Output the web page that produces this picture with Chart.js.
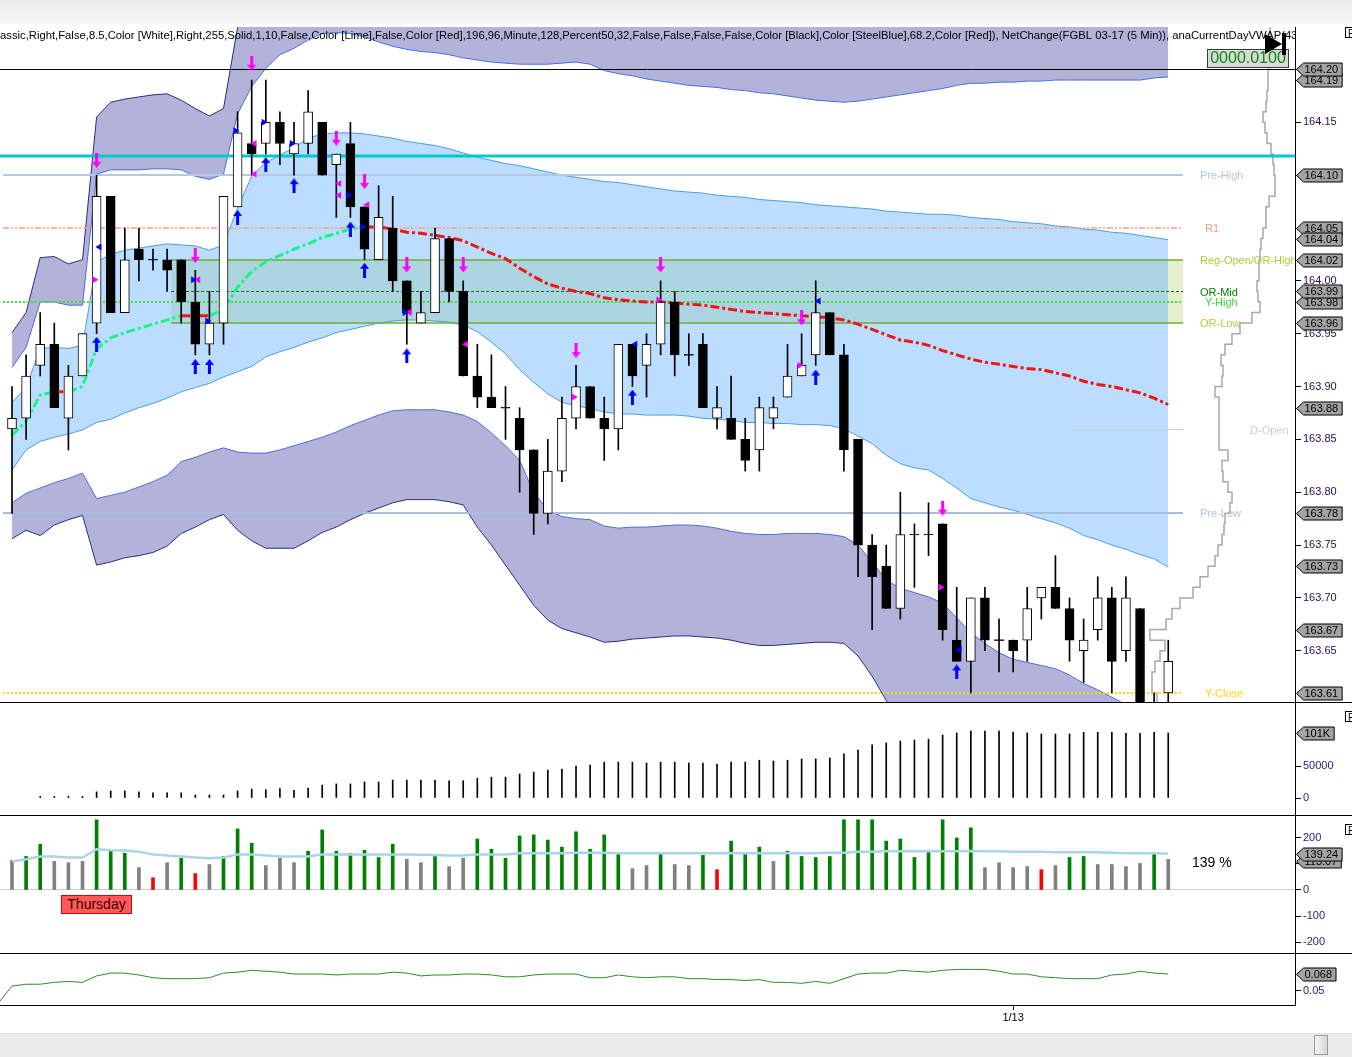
<!DOCTYPE html>
<html>
<head>
<meta charset="utf-8">
<title>FGBL 03-17 (5 Min)</title>
<script src="https://cdn.jsdelivr.net/npm/chart.js@4.4.1/dist/chart.umd.min.js"></script>
<style>
  body { margin: 0; width: 1352px; height: 1057px; overflow: hidden; position: relative; background: #fff; font-family: "Liberation Sans", Arial, sans-serif; }
  canvas { position: absolute; left: 0; }
  .sep { position: absolute; left: 0; width: 1352px; height: 1px; background: #000; }
  .flag { position: absolute; left: 1345px; width: 12px; height: 11px; border: 1px solid #000; background: #fff; font-size: 10px; line-height: 11px; padding-left: 2px; box-sizing: border-box; }
  #topbar { position: absolute; left: 0; top: 0; width: 1352px; height: 24px; background: linear-gradient(#ebebeb, #f6f6f6); }
  #thursday { position: absolute; left: 61px; top: 895px; width: 71px; height: 19px; background: #ff5a5a; border: 1px solid #e00000; box-sizing: border-box; color: #3a0000; font-size: 14px; line-height: 17px; text-align: center; }
  #pct { position: absolute; left: 1192px; top: 854px; font-size: 14px; color: #000; }
  #scroll { position: absolute; left: 0; top: 1033px; width: 1352px; height: 24px; background: #ebebeb; border-top: 1px solid #e0e0e0; }
  #thumb { position: absolute; left: 1314px; top: 1px; width: 14px; height: 20px; background: linear-gradient(90deg, #f4f4f4, #d6d6d6); border: 1px solid #9a9a9a; box-sizing: border-box; }
</style>
</head>
<body>
<div id="topbar"></div>
<canvas id="priceChart" width="1352" height="675" style="top:27px"></canvas>
<canvas id="volumeChart" width="1352" height="112" style="top:703px"></canvas>
<canvas id="relVolChart" width="1352" height="137" style="top:816px"></canvas>
<canvas id="netChart" width="1352" height="76" style="top:954px"></canvas>
<div class="sep" style="top:702px"></div>
<div class="sep" style="top:815px"></div>
<div class="sep" style="top:953px"></div>
<div class="flag" style="top:27px">F</div>
<div class="flag" style="top:711px">F</div>
<div class="flag" style="top:824px">F</div>
<div id="thursday">Thursday</div>
<div id="pct">139 %</div>
<div id="scroll"><div id="thumb"></div></div>

<script>
// ---------------- data (index = 5 min bar) ----------------
const opens = [163.86,163.87,163.92,163.94,163.87,163.91,163.96,164.08,163.97,164.03,
  164.02,164.02,164.02,163.98,163.94,163.96,164.07,164.13,164.13,164.15,
  164.12,164.13,164.15,164.11,164.13,164.07,164.02,164.05,164.00,163.96,
  163.97,164.04,163.99,163.91,163.89,163.88,163.87,163.84,163.78,163.82,
  163.87,163.90,163.87,163.86,163.94,163.92,163.94,163.98,163.93,163.94,
  163.87,163.87,163.85,163.84,163.87,163.89,163.91,163.93,163.97,163.93,
  163.85,163.75,163.73,163.69,163.76,163.76,163.77,163.66,163.64,163.70,
  163.66,163.66,163.66,163.70,163.71,163.69,163.65,163.67,163.70,163.65,
  163.69,163.60,163.61];
const highs = [163.90,163.93,163.97,163.96,163.92,163.95,164.10,164.08,164.05,164.05,
  164.03,164.03,164.02,164.01,163.99,164.08,164.16,164.19,164.19,164.16,
  164.15,164.18,164.15,164.12,164.15,164.07,164.09,164.08,164.00,163.99,
  164.05,164.04,164.00,163.94,163.93,163.90,163.88,163.84,163.85,163.89,
  163.92,163.90,163.89,163.94,163.94,163.95,164.00,163.99,163.95,163.95,
  163.90,163.91,163.87,163.89,163.89,163.94,163.95,164.00,163.97,163.94,
  163.85,163.76,163.75,163.80,163.77,163.79,163.77,163.71,163.70,163.71,
  163.68,163.66,163.71,163.71,163.74,163.70,163.68,163.72,163.71,163.72,
  163.69,163.61,163.66];
const lows = [163.78,163.85,163.91,163.88,163.84,163.91,163.95,163.97,163.97,164.00,
  164.01,163.99,163.96,163.93,163.93,163.94,164.07,164.10,164.12,164.11,
  164.10,164.12,164.10,164.06,164.06,164.02,164.02,163.99,163.94,163.96,
  163.97,163.98,163.91,163.88,163.88,163.85,163.80,163.76,163.77,163.81,
  163.86,163.87,163.83,163.84,163.90,163.89,163.93,163.91,163.92,163.88,
  163.86,163.85,163.82,163.82,163.86,163.89,163.91,163.92,163.93,163.82,
  163.72,163.67,163.69,163.68,163.71,163.74,163.66,163.64,163.61,163.65,
  163.63,163.63,163.64,163.68,163.69,163.64,163.62,163.66,163.61,163.64,
  163.60,163.59,163.60];
const closes = [163.87,163.91,163.94,163.88,163.91,163.95,164.08,163.97,164.02,164.02,
  164.02,164.01,163.98,163.94,163.96,164.08,164.14,164.12,164.15,164.13,
  164.13,164.16,164.10,164.12,164.07,164.03,164.06,164.00,163.97,163.97,
  164.04,163.99,163.91,163.89,163.88,163.88,163.84,163.78,163.82,163.87,
  163.90,163.87,163.86,163.94,163.91,163.94,163.98,163.93,163.93,163.88,
  163.88,163.85,163.83,163.88,163.88,163.91,163.92,163.97,163.93,163.84,
  163.75,163.72,163.69,163.76,163.76,163.76,163.67,163.64,163.70,163.66,
  163.66,163.65,163.69,163.71,163.69,163.66,163.66,163.70,163.64,163.70,
  163.60,163.60,163.64];

const vwap = [163.854,163.867,163.892,163.895,163.895,163.900,163.936,163.946,163.951,163.955,
  163.959,163.963,163.967,163.967,163.967,163.973,163.994,164.009,164.018,164.024,
  164.030,164.035,164.041,164.045,164.049,164.051,164.051,164.049,164.046,164.045,
  164.043,164.041,164.038,164.032,164.026,164.021,164.012,164.004,163.997,163.993,
  163.990,163.988,163.984,163.982,163.981,163.980,163.980,163.979,163.978,163.977,
  163.975,163.973,163.971,163.970,163.969,163.968,163.967,163.966,163.965,163.963,
  163.959,163.954,163.949,163.944,163.942,163.939,163.934,163.930,163.926,163.923,
  163.921,163.919,163.917,163.916,163.913,163.910,163.905,163.902,163.900,163.897,
  163.894,163.889,163.883];

// VWAP deviation bands (outer = 3, middle = 2, inner = 1)
const upper3 = [163.951,163.970,164.022,164.023,164.016,164.020,164.155,164.169,164.172,164.174,
  164.176,164.177,164.171,164.163,164.156,164.163,164.240,164.28,164.28,164.28,
  164.28,164.28,164.28,164.28,164.28,164.28,164.28,164.28,164.28,164.28,
  164.28,164.28,164.28,164.28,164.28,164.28,164.28,164.28,164.28,164.28,
  164.28,164.28,164.28,164.28,164.28,164.28,164.28,164.28,164.28,164.28,
  164.28,164.28,164.28,164.28,164.28,164.28,164.28,164.28,164.28,164.28,
  164.28,164.28,164.28,164.28,164.28,164.28,164.28,164.28,164.28,164.28,
  164.28,164.28,164.28,164.28,164.28,164.28,164.28,164.28,164.28,164.28,
  164.28,164.28,164.28];
const upper2 = [163.918,163.937,163.980,163.980,163.977,163.977,164.101,164.105,164.105,164.105,
  164.106,164.106,164.105,164.099,164.096,164.101,164.158,164.184,164.201,164.214,
  164.220,164.228,164.234,164.235,164.234,164.231,164.226,164.222,164.219,164.217,
  164.216,164.214,164.211,164.209,164.207,164.206,164.205,164.205,164.205,164.206,
  164.207,164.205,164.199,164.196,164.194,164.191,164.189,164.187,164.185,164.184,
  164.183,164.181,164.180,164.178,164.177,164.175,164.173,164.171,164.170,164.169,
  164.170,164.172,164.174,164.176,164.178,164.180,164.182,164.185,164.187,164.187,
  164.188,164.188,164.189,164.189,164.190,164.190,164.190,164.190,164.190,164.190,
  164.190,164.192,164.193];
const upper1 = [163.885,163.899,163.936,163.937,163.936,163.939,164.018,164.025,164.029,164.031,
  164.033,164.035,164.034,164.033,164.029,164.034,164.069,164.099,164.112,164.119,
  164.126,164.135,164.139,164.140,164.140,164.139,164.137,164.135,164.132,164.130,
  164.128,164.125,164.121,164.117,164.114,164.111,164.109,164.106,164.103,164.100,
  164.098,164.096,164.094,164.093,164.091,164.089,164.087,164.085,164.084,164.083,
  164.081,164.080,164.079,164.077,164.076,164.075,164.074,164.072,164.071,164.070,
  164.069,164.068,164.066,164.065,164.064,164.063,164.063,164.062,164.060,164.059,
  164.058,164.056,164.055,164.054,164.052,164.051,164.049,164.048,164.046,164.045,
  164.043,164.041,164.039];
const lower1 = [163.821,163.840,163.848,163.852,163.855,163.859,163.866,163.869,163.875,163.880,
  163.884,163.889,163.895,163.899,163.903,163.909,163.914,163.919,163.928,163.933,
  163.937,163.942,163.946,163.951,163.954,163.957,163.960,163.962,163.963,163.963,
  163.962,163.961,163.958,163.952,163.942,163.931,163.916,163.904,163.893,163.885,
  163.882,163.879,163.876,163.874,163.874,163.873,163.873,163.873,163.872,163.870,
  163.869,163.868,163.866,163.866,163.865,163.865,163.864,163.864,163.863,163.860,
  163.853,163.846,163.835,163.827,163.823,163.821,163.813,163.804,163.794,163.790,
  163.786,163.783,163.779,163.775,163.771,163.766,163.759,163.755,163.750,163.746,
  163.741,163.737,163.729];
const lower2 = [163.790,163.799,163.804,163.809,163.813,163.818,163.794,163.797,163.800,163.805,
  163.810,163.816,163.829,163.833,163.838,163.842,163.838,163.837,163.837,163.840,
  163.844,163.848,163.852,163.857,163.863,163.868,163.873,163.877,163.878,163.878,
  163.878,163.876,163.873,163.867,163.856,163.844,163.830,163.800,163.783,163.777,
  163.775,163.774,163.768,163.766,163.767,163.767,163.768,163.769,163.769,163.768,
  163.766,163.763,163.761,163.760,163.760,163.761,163.761,163.761,163.760,163.758,
  163.750,163.734,163.717,163.709,163.705,163.701,163.695,163.681,163.667,163.657,
  163.648,163.642,163.639,163.636,163.633,163.627,163.619,163.613,163.606,163.599,
  163.592,163.586,163.580];
const lower3 = [163.756,163.764,163.759,163.769,163.774,163.778,163.731,163.734,163.738,163.740,
  163.743,163.749,163.761,163.767,163.774,163.779,163.764,163.754,163.747,163.747,
  163.747,163.754,163.762,163.767,163.774,163.780,163.785,163.790,163.793,163.793,
  163.793,163.791,163.788,163.767,163.750,163.731,163.712,163.693,163.679,163.671,
  163.667,163.663,163.658,163.659,163.661,163.662,163.663,163.664,163.664,163.663,
  163.662,163.660,163.657,163.655,163.655,163.656,163.657,163.658,163.658,163.657,
  163.645,163.626,163.603,163.584,163.56,163.56,163.56,163.56,163.56,163.56,
  163.56,163.56,163.56,163.56,163.56,163.56,163.56,163.56,163.56,163.56,
  163.56,163.56,163.56];

// volume at price (right side profile)
const profilePrices = [164.24,164.23,164.22,164.21,164.20,164.19,164.18,164.17,164.16,164.15,
  164.14,164.13,164.12,164.11,164.10,164.09,164.08,164.07,164.06,164.05,
  164.04,164.03,164.02,164.01,164.00,163.99,163.98,163.97,163.96,163.95,
  163.94,163.93,163.92,163.91,163.90,163.89,163.88,163.87,163.86,163.85,
  163.84,163.83,163.82,163.81,163.80,163.79,163.78,163.77,163.76,163.75,
  163.74,163.73,163.72,163.71,163.70,163.69,163.68,163.67,163.66,163.65,
  163.64,163.63,163.62,163.61,163.60];
const profileVol = [25,25,25,25,26,27,27,28,29,32,
  30,28,24,22,21,20,20,26,29,29,
  32,34,35,36,36,38,37,35,43,55,
  63,70,74,72,73,80,76,76,76,76,
  76,67,73,72,67,63,65,70,71,73,
  77,80,87,95,102,115,123,129,145,130,
  135,140,143,143,138];

// signal markers
const upArrowIdx = [6,13,14,16,18,20,24,25,28,44,57,67];
const upArrowPrice = [163.940,163.919,163.919,164.060,164.110,164.090,164.049,164.010,163.929,163.890,163.909,163.630];
const downArrowIdx = [6,13,17,23,25,28,32,40,46,56,66];
const downArrowPrice = [164.114,164.024,164.206,164.135,164.094,164.015,164.015,163.934,164.015,163.965,163.785];
const blueRightIdx = [13,14,16,18,20,24,25,28];
const blueRightPrice = [164.001,163.962,164.142,164.150,164.130,164.081,164.051,163.970];
const blueLeftIdx = [6,44,57,67];
const blueLeftPrice = [164.032,163.940,163.981,163.651];
const pinkLeftIdx = [13,17,17,23,23,25,28,32];
const pinkLeftPrice = [164.001,164.130,164.101,164.092,164.081,164.072,163.970,163.940];
const pinkRightIdx = [6,40,46,56,66];
const pinkRightPrice = [164.001,163.890,163.982,163.920,163.710];

// horizontal levels
const levelNames = ["Pre-High","R1","Reg-Open/OR-High","OR-Mid","Y-High","OR-Low","D-Open","Pre-Low","Y-Close"];
const levelPrices = [164.10,164.05,164.02,163.99,163.98,163.96,163.86,163.78,163.61];
const cyanLevel = 164.118;
const blackLevel = 164.20;
const priceTags = [164.19,164.20,164.10,164.05,164.04,164.02,163.98,163.99,163.96,163.88,163.78,163.73,163.67,163.61];
const priceTicks = [163.65,163.70,163.75,163.80,163.85,163.90,163.95,164.00,164.05,164.10,164.15,164.20];

// lower panels
const volume = [null,null,2500,2500,2500,2500,9600,11000,11000,9600,
  8000,8000,8000,4700,4700,4700,11000,14000,13000,14600,
  12000,15600,20000,22000,22000,25000,25000,28000,28000,28000,
  28000,27000,27000,31000,32600,32600,37500,40600,43700,45000,
  50000,51600,56000,56000,56000,54700,56000,56000,54700,54700,
  53000,56000,56000,59000,57800,59000,61000,61000,62500,69000,
  75000,83000,86000,89000,90600,92000,98400,101600,104700,104700,
  104700,103000,101600,100000,100000,100000,102600,102600,102600,101000,
  101000,102600,101600];
const volumeTicks = [0,50000];
const relVol = [114,129,176,110,105,110,270,153,141,86,
  47,105,122,63,98,129,235,180,94,122,
  105,149,231,149,141,153,125,176,118,105,
  129,90,122,196,157,122,208,212,192,165,
  224,157,212,137,82,94,137,98,94,133,
  78,188,145,165,110,149,129,125,129,270,
  270,270,188,196,125,153,270,200,239,86,
  105,86,90,78,94,125,129,98,98,90,
  102,137,118];
// g = above average, s = normal, r = low
const relVolState = ("sggsssgggs" + "rsgrsgggss" + "sgggggggss" + "gssggggggg" + "ggggssgssg" +
  "rgggsggggg" + "gggggggggs" + "sssrsggsss" + "sgs").split("");
const relVolAvg = [110,118,129,129,125,125,157,153,152,147,
  137,133,129,125,122,125,137,137,133,129,
  129,129,137,137,137,137,137,137,137,136,
  135,133,133,137,137,137,141,141,141,141,
  143,143,143,141,141,141,141,141,141,141,
  141,141,141,141,141,141,141,141,143,143,
  147,147,149,149,149,149,149,149,150,149,
  149,147,147,147,145,145,145,145,143,141,
  141,141,139];
const relVolTicks = [-200,-100,0,100,200];
const netChangePrev = 0.036;
const netChange = [0.055,0.057,0.057,0.059,0.060,0.059,0.066,0.069,0.069,0.067,
  0.064,0.063,0.063,0.063,0.064,0.069,0.070,0.072,0.071,0.070,
  0.068,0.068,0.068,0.067,0.068,0.068,0.068,0.070,0.069,0.066,
  0.067,0.067,0.068,0.068,0.067,0.065,0.065,0.067,0.068,0.068,
  0.068,0.064,0.064,0.067,0.065,0.064,0.065,0.065,0.063,0.063,
  0.062,0.062,0.061,0.062,0.059,0.059,0.058,0.060,0.058,0.063,
  0.068,0.069,0.069,0.072,0.071,0.070,0.072,0.073,0.073,0.073,
  0.071,0.068,0.068,0.065,0.064,0.063,0.063,0.063,0.067,0.068,
  0.071,0.069,0.068];
const netTicks = [0.05];
const dayBreaks = [71];
const dayLabels = ["1/13"];

const titleText = "assic,Right,False,8.5,Color [White],Right,255,Solid,1,10,False,Color [Lime],False,Color [Red],196,96,Minute,128,Percent50,32,False,False,False,False,Color [Black],Color [SteelBlue],68.2,Color [Red]), NetChange(FGBL 03-17 (5 Min)), anaCurrentDayVWAP(43";

// ---------------- layout constants ----------------
const X_MIN = -0.851, X_MAX = 90.99;
const AXIS_W = 57;
const LEVEL_START = -0.64, LEVEL_END = 83.05, OR_START = 11.28, DOPEN_START = 74.96;
const FONT = '"Liberation Sans", Arial, sans-serif';
const GREEN_VWAP = "#1af58a", RED_VWAP = "#f01414";

const levelStyles = {
  "Pre-High": { color: "#b7c8e2", width: 2, dash: [], text: "#b0c4de", dx: 17 },
  "R1": { color: "#ffa07a", width: 1.5, dash: [6, 2, 2, 2, 2, 2], text: "#ff9a80", dx: 22 },
  "Reg-Open/OR-High": { color: "rgba(110,175,50,0.75)", width: 2, dash: [], text: "#a8d038", dx: 17, from: "or" },
  "OR-Mid": { color: "#007a00", width: 1, dash: [3, 2], text: "#008000", dx: 17, from: "or" },
  "Y-High": { color: "#3de03d", width: 2, dash: [2, 2], text: "#33dd33", dx: 22 },
  "OR-Low": { color: "rgba(110,175,50,0.75)", width: 2, dash: [], text: "#a8d038", dx: 17, from: "or" },
  "D-Open": { color: "#c8d0d8", width: 1, dash: [], text: "#cccccc", dx: 67, from: "dopen" },
  "Pre-Low": { color: "#a9bcdc", width: 2, dash: [], text: "#b0c4de", dx: 17 },
  "Y-Close": { color: "#ffd700", width: 2, dash: [2, 2], text: "#ffd21e", dx: 22 }
};

function xy(values) {
  return values.map((v, i) => ({ x: i, y: v }));
}

function pairs(idx, prices, shift) {
  return idx.map((v, k) => ({ x: v + shift, y: prices[k] }));
}

function fixedTicks(list) {
  return s => { s.ticks = list.map(v => ({ value: v })); };
}

function arrowImage(color, up) {
  const c = document.createElement("canvas");
  c.width = 9; c.height = 15;
  const g = c.getContext("2d");
  g.fillStyle = color;
  g.beginPath();
  if (up) {
    g.moveTo(4.5, 0); g.lineTo(9, 6); g.lineTo(6, 6); g.lineTo(6, 15); g.lineTo(3, 15); g.lineTo(3, 6); g.lineTo(0, 6);
  } else {
    g.moveTo(4.5, 15); g.lineTo(9, 9); g.lineTo(6, 9); g.lineTo(6, 0); g.lineTo(3, 0); g.lineTo(3, 9); g.lineTo(0, 9);
  }
  g.closePath();
  g.fill();
  return c;
}

function hline(ctx, x0, x1, y, color, width, dash) {
  ctx.beginPath();
  ctx.setLineDash(dash);
  ctx.strokeStyle = color;
  ctx.lineWidth = width;
  ctx.moveTo(x0, y);
  ctx.lineTo(x1, y);
  ctx.stroke();
  ctx.setLineDash([]);
}

function clipArea(chart) {
  const a = chart.chartArea;
  chart.ctx.beginPath();
  chart.ctx.rect(a.left, a.top, a.right - a.left, a.bottom - a.top);
  chart.ctx.clip();
}

function drawTag(chart, value, text) {
  const ctx = chart.ctx;
  const y = Math.round(chart.scales.y.getPixelForValue(value)) + 0.5;
  const x0 = chart.chartArea.right + 1.5;
  ctx.save();
  ctx.font = "11px " + FONT;
  const w = ctx.measureText(text).width + 12;
  ctx.beginPath();
  ctx.moveTo(x0, y);
  ctx.lineTo(x0 + 7, y - 6.5);
  ctx.lineTo(x0 + w, y - 6.5);
  ctx.lineTo(x0 + w, y + 6.5);
  ctx.lineTo(x0 + 7, y + 6.5);
  ctx.closePath();
  ctx.fillStyle = "#a3a3a3";
  ctx.fill();
  ctx.strokeStyle = "#000";
  ctx.lineWidth = 1;
  ctx.stroke();
  ctx.fillStyle = "#000";
  ctx.textBaseline = "middle";
  ctx.fillText(text, x0 + 8, y + 0.5);
  ctx.restore();
}

// opening range box sits underneath the translucent deviation band
function drawRangeBox(chart) {
  const xs = chart.scales.x, ys = chart.scales.y;
  const xEnd = xs.getPixelForValue(LEVEL_END);
  const xOr = xs.getPixelForValue(OR_START);
  const top = Math.round(ys.getPixelForValue(levelPrices[levelNames.indexOf("Reg-Open/OR-High")]));
  const bot = Math.round(ys.getPixelForValue(levelPrices[levelNames.indexOf("OR-Low")]));
  const ctx = chart.ctx;
  ctx.save();
  clipArea(chart);
  ctx.fillStyle = "rgb(230,240,205)";
  ctx.fillRect(xOr, top, xEnd - xOr, bot - top);
  ctx.restore();
}

function drawLevels(chart) {
  const { ctx, chartArea: a } = chart;
  const xs = chart.scales.x, ys = chart.scales.y;
  const xStart = xs.getPixelForValue(LEVEL_START);
  const xEnd = xs.getPixelForValue(LEVEL_END);
  const xOr = xs.getPixelForValue(OR_START);
  const xDOpen = xs.getPixelForValue(DOPEN_START);

  ctx.save();
  clipArea(chart);
  hline(ctx, a.left, a.right, Math.round(ys.getPixelForValue(blackLevel)) + 0.5, "#000", 1, []);
  hline(ctx, a.left, a.right, Math.round(ys.getPixelForValue(cyanLevel)), "#00c8d0", 3, []);

  ctx.font = "11px " + FONT;
  ctx.textBaseline = "middle";
  levelNames.forEach((name, k) => {
    const st = levelStyles[name];
    const y = Math.round(ys.getPixelForValue(levelPrices[k])) + (st.width === 1 ? 0.5 : 0);
    const x0 = st.from === "or" ? xOr : st.from === "dopen" ? xDOpen : xStart;
    hline(ctx, x0, xEnd, y, st.color, st.width, st.dash);
    ctx.fillStyle = st.text;
    ctx.fillText(name, xEnd + st.dx, y + 1);
  });
  ctx.restore();
}

function drawHeader(chart) {
  const { ctx, chartArea: a } = chart;
  ctx.save();
  clipArea(chart);
  ctx.font = "12px " + FONT;
  const w = ctx.measureText(titleText).width;
  const size = Math.max(10, Math.min(13, 12 * 1298 / w));
  ctx.font = size.toFixed(2) + "px " + FONT;
  ctx.fillStyle = "#000";
  ctx.textBaseline = "middle";
  ctx.fillText(titleText, a.left, a.top + 9);

  // bar-step box
  const bx = a.right - 88, by = a.top + 22;
  ctx.fillStyle = "#d9d9d9";
  ctx.fillRect(bx, by, 81, 18);
  ctx.strokeStyle = "#3a3a3a";
  ctx.lineWidth = 1;
  ctx.strokeRect(bx + 0.5, by + 0.5, 81, 18);
  ctx.fillStyle = "#0b8a0b";
  ctx.font = "16px " + FONT;
  ctx.textAlign = "center";
  ctx.fillText("0000.0100", bx + 41, by + 10);

  // jump-to-end icon
  ctx.fillStyle = "#000";
  ctx.beginPath();
  ctx.moveTo(a.right - 30, a.top + 7);
  ctx.lineTo(a.right - 13, a.top + 17);
  ctx.lineTo(a.right - 30, a.top + 27);
  ctx.closePath();
  ctx.fill();
  ctx.fillRect(a.right - 13, a.top + 6, 4, 22);
  ctx.restore();
}

const mainOverlay = {
  id: "mainOverlay",
  beforeDatasetsDraw(chart) {
    drawRangeBox(chart);
  },
  beforeDatasetDraw(chart, args) {
    if (chart.data.datasets[args.index].label === "VWAP") drawLevels(chart);
  },
  afterDraw(chart) {
    drawHeader(chart);
    priceTags.forEach(p => drawTag(chart, p, p.toFixed(2)));
  }
};

function hiddenX() {
  return { type: "linear", min: X_MIN, max: X_MAX, offset: false, display: false, grid: { offset: false } };
}

// scale labels may overhang the panel edges, so no padding is reserved for them
function noLabelPadding(s) {
  s.paddingTop = 0; s.paddingBottom = 0; s.paddingLeft = 0; s.paddingRight = 0;
}

function rightAxis(min, max, tickList, fmt, color) {
  return {
    position: "right", min, max,
    afterBuildTicks: fixedTicks(tickList),
    afterFit(s) { s.width = AXIS_W; noLabelPadding(s); },
    border: { display: true, color: "#000" },
    grid: { drawOnChartArea: false, tickLength: 6, color: "#000", tickColor: "#000" },
    ticks: { color, padding: 2, autoSkip: false, font: { size: 11, family: FONT }, callback: fmt }
  };
}

function baseOptions(scales) {
  return {
    responsive: false, animation: false, events: [],
    layout: { padding: 0, autoPadding: false },
    plugins: { legend: { display: false }, tooltip: { enabled: false } },
    scales
  };
}

// ---------------- price panel ----------------
function buildPriceChart() {
  const band = (data, color, fill, bg) => ({
    type: "line", data: xy(data), borderColor: color, borderWidth: 1, pointRadius: 0,
    fill: fill ? "-1" : false, backgroundColor: bg || "transparent", order: 10
  });
  const purple = "rgb(179,179,217)";
  const bodies = opens.map((o, i) => {
    const c = closes[i];
    return o === c ? { x: i, y: [o - 0.0005, o + 0.0005] } : { x: i, y: [o, c] };
  });
  const bodyColors = opens.map((o, i) => (closes[i] > o ? "#fff" : "#000"));
  const tri = (idx, prices, shift, color, rot) => ({
    type: "line", showLine: false, data: pairs(idx, prices, shift), pointStyle: "triangle",
    pointRotation: rot, pointRadius: 4, pointBackgroundColor: color, pointBorderWidth: 0, order: 1
  });

  new Chart(document.getElementById("priceChart"), {
    type: "line",
    data: {
      datasets: [
        band(upper3, "#2a2a8a", false),
        band(upper2, "#4a6ee0", true, purple),
        band(upper1, "#4d9be8", false),
        band(lower1, "#4d9be8", true, "rgba(85,170,255,0.4)"),
        band(lower2, "#4a6ee0", false),
        band(lower3, "#2a2a8a", true, purple),
        {
          label: "Profile", type: "line", xAxisID: "xp",
          data: profilePrices.map((p, k) => ({ x: profileVol[k], y: p })),
          stepped: true, borderColor: "#a8a8a8", borderWidth: 1.5, pointRadius: 0, fill: false, order: 9
        },
        {
          label: "VWAP", type: "line", data: xy(vwap), borderWidth: 3, borderDash: [9, 3, 3, 3],
          pointRadius: 0, fill: false, order: 5, borderColor: GREEN_VWAP,
          segment: { borderColor: ctx => (ctx.p1.parsed.y > ctx.p0.parsed.y ? GREEN_VWAP : RED_VWAP) }
        },
        {
          label: "Wicks", type: "bar", data: opens.map((o, i) => ({ x: i, y: [lows[i], highs[i]] })),
          backgroundColor: "#000", barThickness: 1, grouped: false, order: 3
        },
        {
          label: "Bodies", type: "bar", data: bodies, backgroundColor: bodyColors,
          borderColor: "#000", borderWidth: 1, borderSkipped: false, barThickness: 9, grouped: false, order: 2
        },
        {
          type: "line", showLine: false, data: pairs(upArrowIdx, upArrowPrice, 0),
          pointStyle: arrowImage("#0000ff", true), pointRadius: 5, order: 1
        },
        {
          type: "line", showLine: false, data: pairs(downArrowIdx, downArrowPrice, 0),
          pointStyle: arrowImage("#ff00ff", false), pointRadius: 5, order: 1
        },
        tri(blueRightIdx, blueRightPrice, -0.15, "#0000ff", 90),
        tri(blueLeftIdx, blueLeftPrice, 0.2, "#0000ff", -90),
        tri(pinkLeftIdx, pinkLeftPrice, 0.2, "#ff00ff", -90),
        tri(pinkRightIdx, pinkRightPrice, -0.15, "#ff00ff", 90)
      ]
    },
    options: baseOptions({
      x: hiddenX(),
      xp: { type: "linear", axis: "x", reverse: true, min: 0, max: 1295, display: false },
      y: rightAxis(163.6015, 164.2402, priceTicks, v => v.toFixed(2), "#2c0a4a")
    }),
    plugins: [mainOverlay]
  });
}

// ---------------- volume panel ----------------
function buildVolumeChart() {
  new Chart(document.getElementById("volumeChart"), {
    type: "bar",
    data: {
      datasets: [{
        data: volume.map((v, i) => ({ x: i, y: v })),
        backgroundColor: "#000", barThickness: 1, grouped: false
      }]
    },
    options: baseOptions({
      x: hiddenX(),
      y: rightAxis(-26562, 148437, volumeTicks, v => String(Math.round(v)), "#1e1e78")
    }),
    plugins: [{ id: "volTag", afterDraw(chart) { drawTag(chart, volume[volume.length - 1], "101K"); } }]
  });
}

// ---------------- relative volume panel ----------------
function buildRelVolChart() {
  const colors = { g: "#008000", s: "#808080", r: "#ff0000" };
  const yAxis = rightAxis(-242.3, 284.6, relVolTicks, v => String(Math.round(v)), "#1e1e78");
  yAxis.grid = {
    drawOnChartArea: true, tickLength: 6, tickColor: "#000",
    color: ctx => (ctx.tick && ctx.tick.value === 0 ? "#cfcfcf" : "transparent")
  };
  new Chart(document.getElementById("relVolChart"), {
    type: "bar",
    data: {
      datasets: [
        {
          type: "line", data: xy(relVolAvg), borderColor: "#a9d6e6", borderWidth: 2.5,
          pointRadius: 0, fill: false, order: 0
        },
        {
          type: "bar", data: xy(relVol), backgroundColor: relVolState.map(s => colors[s]),
          barThickness: 3, grouped: false, order: 1
        }
      ]
    },
    options: baseOptions({ x: hiddenX(), y: yAxis }),
    plugins: [{
      id: "relTag",
      afterDraw(chart) {
        drawTag(chart, 113.07, "113.07");
        drawTag(chart, 139.24, "139.24");
      }
    }]
  });
}

// ---------------- net change panel ----------------
function buildNetChart() {
  const data = [{ x: -1, y: netChangePrev }].concat(xy(netChange));
  new Chart(document.getElementById("netChart"), {
    type: "line",
    data: {
      datasets: [{ data, borderColor: "#2e8b2e", borderWidth: 1, pointRadius: 0, fill: false, tension: 0 }]
    },
    options: baseOptions({
      x: {
        type: "linear", min: X_MIN, max: X_MAX, offset: false, position: "bottom",
        afterBuildTicks: fixedTicks(dayBreaks),
        afterFit(s) { s.height = 25; noLabelPadding(s); },
        border: { display: true, color: "#000" },
        grid: { drawOnChartArea: false, tickLength: 5, color: "#000", tickColor: "#000" },
        ticks: {
          color: "#000", padding: 1, autoSkip: false, maxRotation: 0, font: { size: 11, family: FONT },
          callback: v => dayLabels[dayBreaks.indexOf(v)] || ""
        }
      },
      y: rightAxis(0.0346, 0.0896, netTicks, v => v.toFixed(2), "#1e1e78")
    }),
    plugins: [{ id: "netTag", afterDraw(chart) { drawTag(chart, netChange[netChange.length - 1], "0.068"); } }]
  });
}

buildPriceChart();
buildVolumeChart();
buildRelVolChart();
buildNetChart();
</script>
</body>
</html>
